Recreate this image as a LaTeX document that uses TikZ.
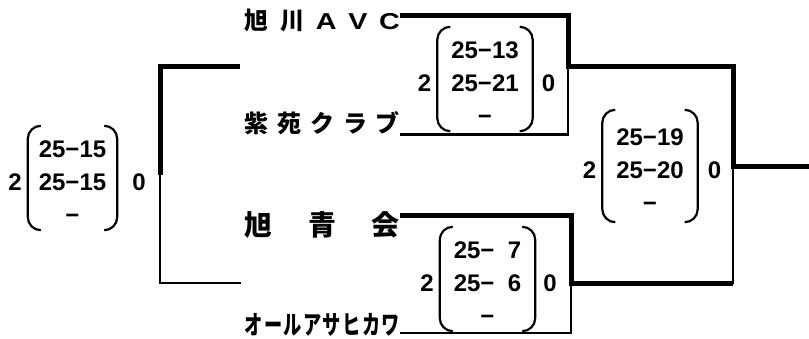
\documentclass[tikz,border=0pt]{standalone}
\usepackage{fontspec}
\usetikzlibrary{positioning}

\newfontfamily\numfont{Liberation Sans}
\newfontfamily\widelatin[FakeStretch=1.25]{Liberation Sans}
\newfontfamily\jpfont{Noto Sans CJK JP}
\newfontfamily\jpnarrow[FakeStretch=0.7]{Noto Sans CJK JP}

\newcommand\spreadname[1]{\makebox[155pt][s]{#1}}
\newcommand\latin[1]{{\widelatin\bfseries\fontsize{23}{23}\selectfont #1}}
\newcommand\scoreparens[1]{%
  \draw[paren] ([shift={(13pt,4pt)}]#1.north west) -- ([yshift=4pt]#1.north west)
    -- ([yshift=4pt]#1.south west) -- ([shift={(13pt,4pt)}]#1.south west);
  \draw[paren] ([shift={(-13pt,4pt)}]#1.north east) -- ([yshift=4pt]#1.north east)
    -- ([yshift=4pt]#1.south east) -- ([shift={(-13pt,4pt)}]#1.south east);}

\begin{document}
\begin{tikzpicture}[x=1pt, y=-1pt,
  team/.style  = {anchor=east, inner sep=0pt,
                  font=\jpfont\bfseries\fontsize{24}{24}\selectfont},
  score/.style = {inner sep=0pt, minimum width=95pt, minimum height=104pt,
                  align=center, font=\numfont\bfseries\fontsize{24}{33}\selectfont},
  pts/.style   = {inner sep=0pt, font=\numfont\bfseries\fontsize{24}{24}\selectfont},
  win/.style   = {line width=5pt},
  lose/.style  = {line width=2.5pt},
  paren/.style = {line width=2.2pt, rounded corners=13pt}
]
\useasboundingbox (0,0) rectangle (809,339);

\node[team] (asahikawa) at (400,20.5) {\spreadname{旭\hfil 川\hfil \latin{A}\hfil \latin{V}\hfil \latin{C}}};
\node[team] (shien)     at (400,123)  {\spreadname{紫\hfil 苑\hfil ク\hfil ラ\hfil ブ}};
\node[team, font=\jpfont\bfseries\fontsize{28}{28}\selectfont]
                (kyokusei)  at (400,224.5) {\spreadname{旭\hfil 青\hfil 会}};
\node[team, font=\jpnarrow\bfseries\fontsize{26}{26}\selectfont]
                (allasahi)  at (400,325) {\spreadname{オ\hfil ー\hfil ル\hfil ア\hfil サ\hfil ヒ\hfil カ\hfil ワ}};

\coordinate (semi1out) at (568,67);
\coordinate (semi2out) at (571,284);
\coordinate (finalout) at (733,167);
\coordinate (champ)    at (809,167);
\coordinate (extratop) at (240,67);
\coordinate (extrabot) at (241,283);
\coordinate (extramid) at (160,175);

% bracket lines
\draw[win]  ([yshift=4.5pt]asahikawa.east) -| (semi1out) -- (semi1out -| finalout)
            -- (finalout) -- (champ);
\draw[lose] ([yshift=-11.5pt]shien.east) -| (semi1out);
\draw[win]  ([yshift=8.5pt]kyokusei.east) -| (semi2out) -- (semi2out -| finalout);
\draw[lose] ([yshift=-8pt]allasahi.east) -| (semi2out);
\draw[lose] (semi2out -| finalout) -- (finalout);
\draw[win]  (extratop) -| (extramid);
\draw[lose] (extrabot) -| (extramid);

% scores
\node[score] (semi1) at (485,83)  {25−13\\25−21\\−};
\node[score] (semi2) at (487.5,283) {25−\hphantom{0}7\\25−\hphantom{0}6\\−};
\node[score, minimum height=112pt] (final) at (650,170) {25−19\\25−20\\−};
\node[score, minimum width=89pt]   (extra) at (72.5,182) {25−15\\25−15\\−};

\node[pts, left=6pt of semi1]   (semi1w) {2};
\node[pts, right=9pt of semi1]  (semi1l) {0};
\node[pts, left=6pt of semi2]   (semi2w) {2};
\node[pts, right=8pt of semi2]  (semi2l) {0};
\node[pts, left=6pt of final]   (finalw) {2};
\node[pts, right=10pt of final] (finall) {0};
\node[pts, left=6pt of extra]   (extraw) {2};
\node[pts, right=15pt of extra] (extral) {0};

\scoreparens{semi1}
\scoreparens{semi2}
\scoreparens{final}
\scoreparens{extra}
\end{tikzpicture}
\end{document}
